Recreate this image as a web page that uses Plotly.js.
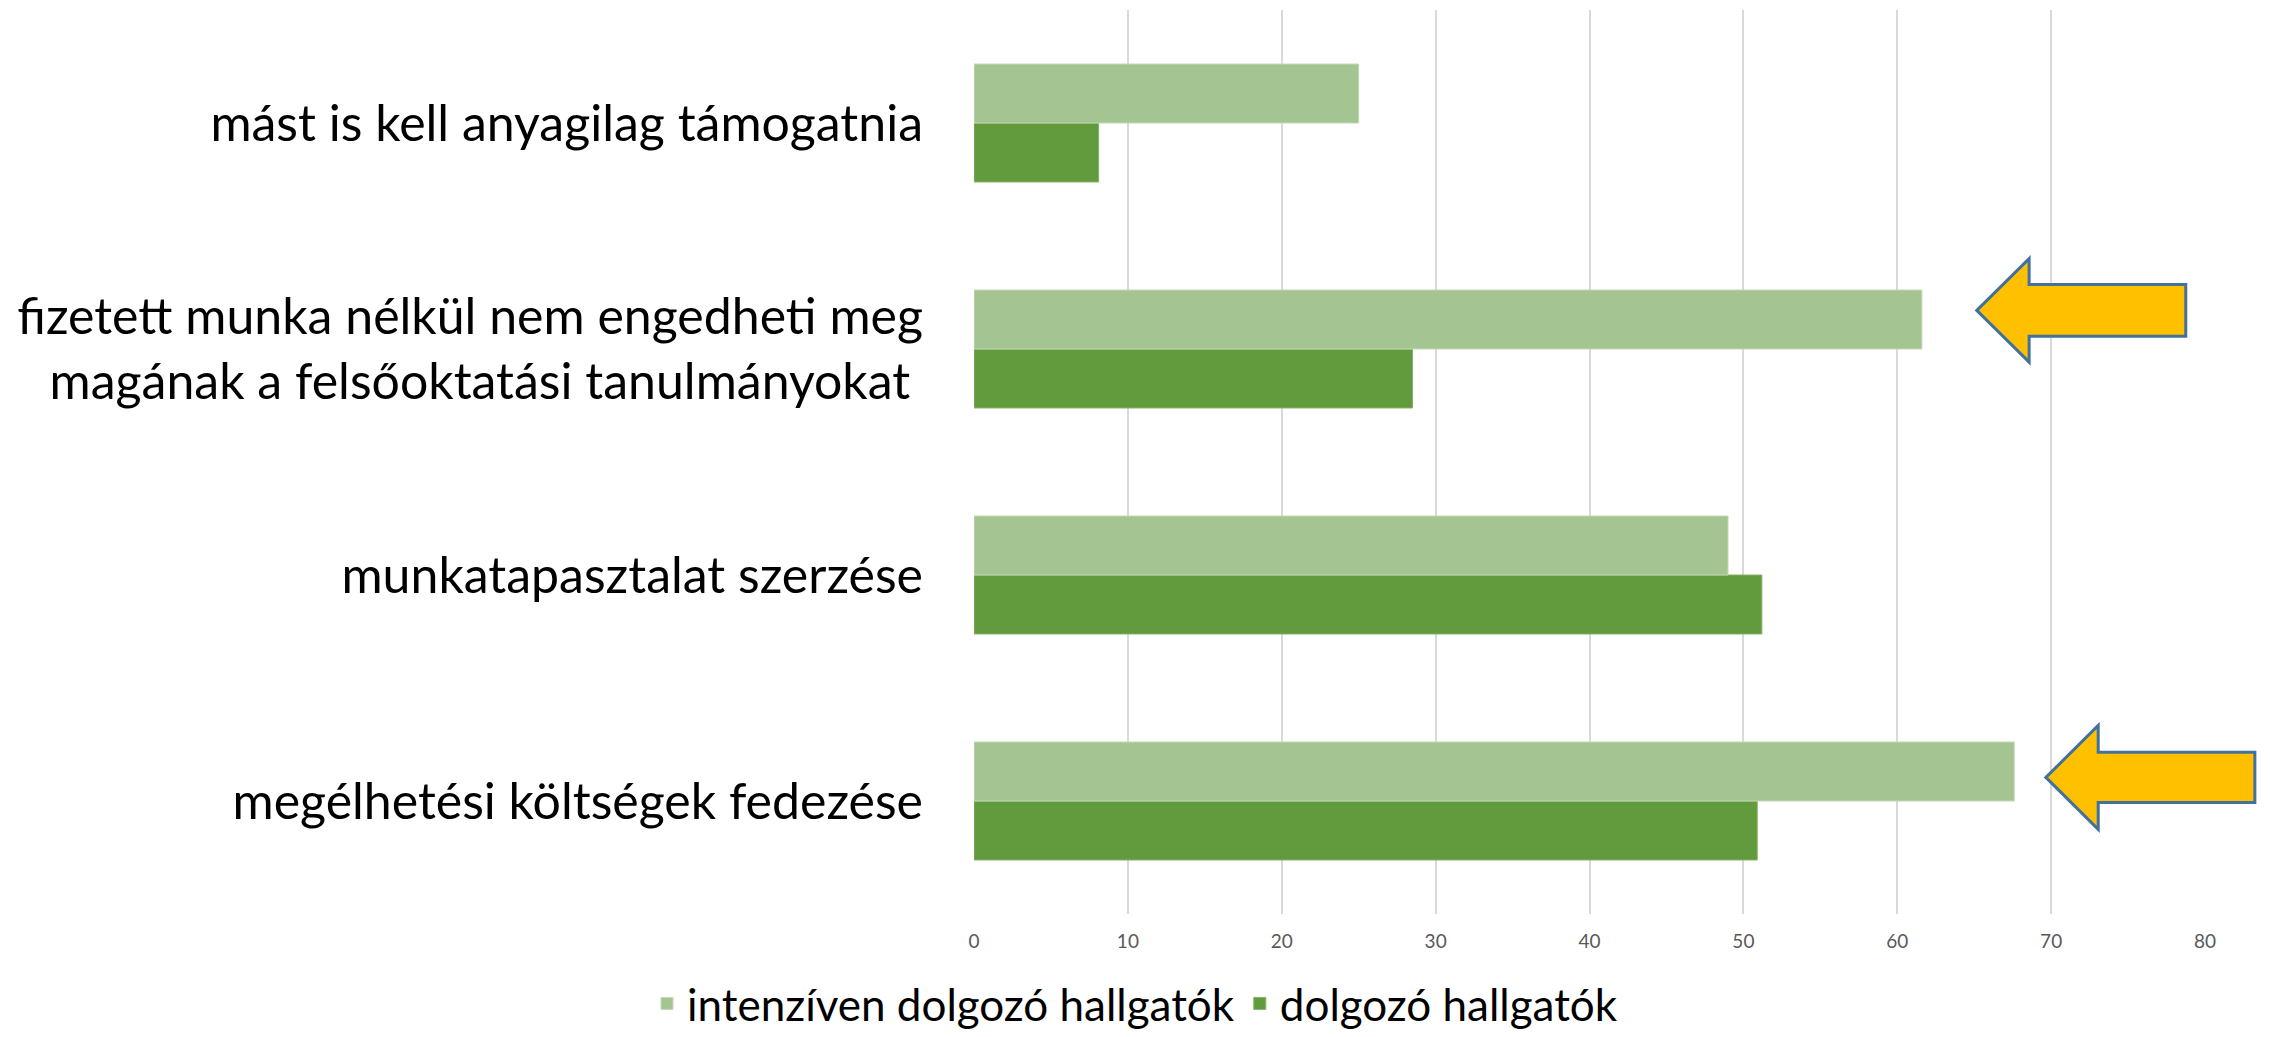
<!DOCTYPE html>
<html>
<head>
<meta charset="utf-8">
<script src="https://cdn.plot.ly/plotly-3.0.1.min.js"></script>
<style>
  html, body { margin: 0; padding: 0; background: #fff; }
  #chart { width: 2270px; height: 1037px; }
</style>
</head>
<body>
<div id="chart"></div>
<script>
// categories listed bottom to top (plotly puts the first category at the bottom)
const categories = [
  'megélhetési költségek fedezése',
  'munkatapasztalat szerzése',
  'fizetett munka nélkül nem engedheti meg<br>magának a felsőoktatási tanulmányokat\u00a0',
  'mást is kell anyagilag támogatnia'
];
const intenzivenDolgozo = [67.6, 49.0, 61.6, 25.0];
const dolgozo = [50.9, 51.2, 28.5, 8.1];
const xTicks = [0, 10, 20, 30, 40, 50, 60, 70, 80];
const xMax = 80;

const lightGreen = '#A4C492';
const darkGreen = '#629A3E';

// highlight arrows, in paper units so they are not clipped at the plot edge
// tip x, back of head x, tail x (axis units), centre y (paper), half heights
function arrowPath(tipX, headX, tailX, cy, shaftHalf, headHalf) {
  const px = v => v / xMax;
  return 'M' + px(tipX) + ',' + cy +
    ' L' + px(headX) + ',' + (cy + headHalf) +
    ' L' + px(headX) + ',' + (cy + shaftHalf) +
    ' L' + px(tailX) + ',' + (cy + shaftHalf) +
    ' L' + px(tailX) + ',' + (cy - shaftHalf) +
    ' L' + px(headX) + ',' + (cy - shaftHalf) +
    ' L' + px(headX) + ',' + (cy - headHalf) + ' Z';
}

const arrowStyle = {
  type: 'path',
  xref: 'paper',
  yref: 'paper',
  fillcolor: '#FFC000',
  line: { color: '#41719C', width: 3 },
  layer: 'above'
};

const data = [
  {
    type: 'bar',
    orientation: 'h',
    name: 'dolgozó hallgatók',
    y: categories,
    x: dolgozo,
    marker: { color: darkGreen, line: { color: '#86B166', width: 1 } },
    hoverinfo: 'x+name'
  },
  {
    type: 'bar',
    orientation: 'h',
    name: 'intenzíven dolgozó hallgatók',
    y: categories,
    x: intenzivenDolgozo,
    marker: { color: lightGreen, line: { color: '#C3D9B6', width: 1 } },
    hoverinfo: 'x+name'
  }
];

const layout = {
  width: 2270,
  height: 1037,
  margin: { l: 974, r: 65, t: 10, b: 123 },
  paper_bgcolor: '#ffffff',
  plot_bgcolor: '#ffffff',
  font: { family: 'Lato, "Open Sans", sans-serif', color: '#000000' },
  barmode: 'group',
  bargap: 0.478,
  bargroupgap: 0,
  showlegend: true,
  legend: {
    orientation: 'h',
    traceorder: 'reversed',
    xref: 'container',
    yref: 'container',
    x: 0.5,
    xanchor: 'center',
    y: 0.032,
    yanchor: 'middle',
    itemwidth: 30,
    font: { size: 44, color: '#000000' }
  },
  xaxis: {
    range: [0, xMax],
    tickvals: xTicks,
    showgrid: true,
    gridcolor: '#D9D9D9',
    gridwidth: 2,
    zeroline: false,
    showline: false,
    ticks: '',
    ticklabelstandoff: 14,
    tickfont: { size: 19, color: '#595959' },
    fixedrange: true
  },
  yaxis: {
    type: 'category',
    showgrid: false,
    zeroline: false,
    showline: false,
    ticks: '',
    ticklabelstandoff: 50,
    tickfont: { size: 50, color: '#000000' },
    fixedrange: true
  },
  shapes: [
    Object.assign({ path: arrowPath(65.17, 68.57, 78.75, 0.6677, 0.0286, 0.0572) }, arrowStyle),
    Object.assign({ path: arrowPath(69.66, 73.06, 83.24, 0.1511, 0.0277, 0.0575) }, arrowStyle)
  ]
};

Plotly.newPlot('chart', data, layout, { displayModeBar: false, staticPlot: true });
</script>
</body>
</html>
